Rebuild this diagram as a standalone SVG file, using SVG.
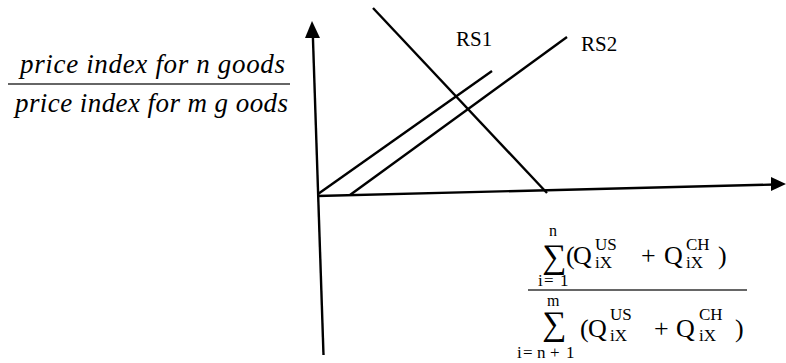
<svg xmlns="http://www.w3.org/2000/svg" width="786" height="363" viewBox="0 0 786 363">
<defs>
<style>
.ln{stroke:#000;stroke-width:2.4;fill:none}
.rule{stroke:#333;stroke-width:1.6}
</style>
</defs>
<rect width="786" height="363" fill="#fff"/>
<g id="connectors">
<g id="y-axis">
<line class="ln" x1="323.5" y1="355" x2="312.8" y2="34"/>
<polygon points="312,21 305,38 320,38" fill="#000"/>
</g>
<g id="x-axis">
<line class="ln" x1="317" y1="196" x2="775" y2="184.5"/>
<polygon points="786,184 771,177 771,191" fill="#000"/>
</g>
<line id="rs1-line" class="ln" x1="318" y1="194" x2="492" y2="71"/>
<line id="rs2-line" class="ln" x1="350" y1="195" x2="567" y2="37"/>
<line id="rd-line" class="ln" x1="373" y1="8" x2="547" y2="193"/>
</g>
<g id="rs1-label"><text x="456" y="46" font-family="'Liberation Serif', serif" font-size="21">RS1</text></g>
<g id="rs2-label"><text x="581" y="51" font-family="'Liberation Serif', serif" font-size="21">RS2</text></g>
<g id="y-label" font-family="'Liberation Serif', serif" font-style="italic" font-size="27">
<text x="20" y="73" textLength="265" lengthAdjust="spacing">price index for n goods</text>
<line class="rule" x1="8" y1="84" x2="290" y2="84"/>
<text x="15" y="112" textLength="273" lengthAdjust="spacing">price index for m g oods</text>
</g>
<g id="x-label" font-family="'Liberation Serif', serif">
<text font-size="16" x="549" y="236">n</text>
<text font-size="34" x="542" y="268">∑</text>
<text font-size="26" x="566" y="264">(</text>
<text font-size="26" x="573" y="264">Q</text>
<text font-size="17" x="595" y="250">US</text>
<text font-size="17" x="595" y="268">iX</text>
<text font-size="26" x="641" y="264">+</text>
<text font-size="26" x="664" y="264">Q</text>
<text font-size="17" x="686" y="250">CH</text>
<text font-size="17" x="686" y="268">iX</text>
<text font-size="26" x="718" y="264">)</text>
<text font-size="17" x="538 544 560" y="286">i=1</text>
<line class="rule" x1="528" y1="290" x2="747" y2="290"/>
<text font-size="16" x="547" y="306">m</text>
<text font-size="34" x="542" y="335">∑</text>
<text font-size="26" x="580" y="337">(</text>
<text font-size="26" x="588" y="337">Q</text>
<text font-size="17" x="610" y="320">US</text>
<text font-size="17" x="610" y="341">iX</text>
<text font-size="26" x="654" y="337">+</text>
<text font-size="26" x="676" y="337">Q</text>
<text font-size="17" x="699" y="320">CH</text>
<text font-size="17" x="699" y="341">iX</text>
<text font-size="26" x="735" y="337">)</text>
<text font-size="17" x="517 523 537 550 566" y="358">i=n+1</text>
</g>
</svg>
